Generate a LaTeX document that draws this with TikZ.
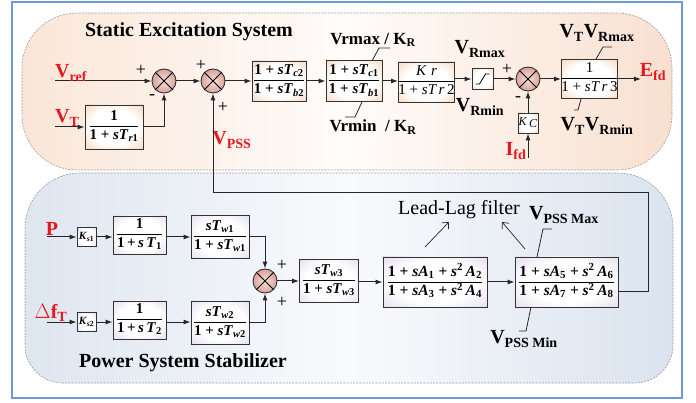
\documentclass[tikz,border=0pt]{standalone}
\usepackage{fontspec}
\setmainfont{Liberation Serif}
\usetikzlibrary{arrows.meta}
\definecolor{lblred}{RGB}{232,22,30}
\definecolor{frameblue}{RGB}{110,155,215}
\definecolor{orngE}{RGB}{238,192,156}
\definecolor{orngC}{RGB}{222,158,114}
\definecolor{lavE}{RGB}{214,202,228}
\definecolor{lavC}{RGB}{186,168,208}
\pgfdeclareradialshading{shO}{\pgfpoint{0bp}{0bp}}{color(0bp)=(white); color(20bp)=(white); color(46bp)=(orngE); color(72bp)=(orngC)}
\pgfdeclareradialshading{shP}{\pgfpoint{0bp}{0bp}}{color(0bp)=(white); color(20bp)=(white); color(46bp)=(lavE); color(72bp)=(lavC)}
\newcommand\fr[2]{\begin{tabular}{@{}c@{}}#1\\[1pt]\hline\rule{0pt}{13pt}#2\end{tabular}}
\newcommand\sTT[1]{\textit{sT}\textsubscript{#1}}
\tikzset{
  ln/.style={line width=1pt, draw=black!85},
  arr/.style={ln, -{Latex[length=7pt,width=5pt]}},
  thinarr/.style={line width=0.7pt, draw=black!85, -{Straight Barb[length=5pt,width=9pt]}},
  tab/.style={line width=0.8pt, draw=black!85},
  blkO/.style={draw=black!80, line width=0.9pt, inner sep=0pt, shading=shO,
     font=\fontsize{15}{16}\selectfont\bfseries},
  blkP/.style={draw=black!80, line width=0.9pt, inner sep=0pt, shading=shP,
     font=\fontsize{15}{16}\selectfont\bfseries},
  sumc/.style={circle, draw=black!80, line width=0.9pt, minimum size=24pt, inner sep=0pt,
     inner color={rgb,255:red,248;green,222;blue,216}, outer color={rgb,255:red,216;green,164;blue,154}},
  sgn/.style={font=\fontsize{18}{18}\selectfont, inner sep=0pt},
  lab/.style={font=\fontsize{20}{22}\selectfont\bfseries, inner sep=0pt},
  labR/.style={lab, text=lblred},
  klab/.style={font=\fontsize{17}{18}\selectfont\bfseries, inner sep=0pt},
  ttl/.style={font=\fontsize{20}{22}\selectfont\bfseries, inner sep=0pt}
}
\begin{document}
\begin{tikzpicture}[x=1pt,y=-1pt]
\useasboundingbox (0,0) rectangle (696,403);
\fill[white] (0,0) rectangle (696,403);
% regions
\path[draw=gray!75, dash pattern=on 2pt off 1.2pt, line width=0.6pt,
  left color={rgb,255:red,250;green,230;blue,216}, right color={rgb,255:red,248;green,224;blue,208},
  middle color={rgb,255:red,255;green,252;blue,250}]
  (350,13) [rounded corners=55] -- (22,13) -- (22,170) -- (672,170) -- (672,13) -- cycle;
\path[draw=gray!75, dash pattern=on 2pt off 1.2pt, line width=0.6pt,
  left color={rgb,255:red,222;green,230;blue,240}, right color={rgb,255:red,218;green,227;blue,239},
  middle color={rgb,255:red,249;green,250;blue,252}]
  (350,173) [rounded corners=55] -- (25,173) [rounded corners=38] -- (25,383) -- (673,383) [rounded corners=55] -- (673,173) -- cycle;
\draw[frameblue, line width=1.5pt] (12,2) rectangle (682,398);

% titles
\node[ttl] (t1) at (189,32) {Static Excitation System};
\node[ttl] (t2) at (183,363) {Power System Stabilizer};

% ---------- top system ----------
\node[sumc] (sum1) at (164,81) {};
\node[sumc] (sum2) at (213,81) {};
\node[sumc] (sum3) at (528,79) {};
\node[blkO, minimum width=58pt, minimum height=44pt] (b1) at (114,127) {\fr{1}{1 + \sTT{\textit{r}1}}};
\node[blkO, minimum width=54pt, minimum height=40pt] (bc2) at (279,81) {\fr{1 + \sTT{\textit{c}2}}{1 + \sTT{\textit{b}2}}};
\node[blkO, minimum width=56pt, minimum height=41pt] (bc1) at (354,81) {\fr{1 + \sTT{\textit{c}1}}{1 + \sTT{\textit{b}1}}};
\node[blkO, minimum width=55pt, minimum height=40pt, font=\fontsize{15}{16}\selectfont] (bkr) at (426.5,82) {\fr{\textit{K\,\,r}}{1 + \textit{sT\,r}\,2}};
\node[blkO, minimum width=21pt, minimum height=21pt] (lim) at (482.5,79) {};
\draw[line width=0.8pt] (lim.center) ++(-7,5) -- ++(4,0) -- ++(6,-10) -- ++(4,0);
\node[blkO, minimum width=20pt, minimum height=20pt, font=\fontsize{12}{12}\selectfont] (kc) at (528,123) {\textit{K}\,\raisebox{-2pt}{\textit{C}}};
\node[blkO, minimum width=53pt, minimum height=39pt, font=\fontsize{15}{16}\selectfont] (br3) at (589.5,79) {\fr{1}{1 + \textit{sT\,r}\,3}};

\coordinate (vrefin) at (55,81);
\coordinate (vtin) at (55,127);
\coordinate (ifdin) at (528,158);
\coordinate (efdout) at (641,79);
\coordinate (fbc) at (648,193);

\draw[arr] (vrefin) -- (sum1.west);
\draw[arr] (vtin) -- (b1.west);
\draw[arr] (b1.east) -| (sum1.south);
\draw[arr] (sum1.east) -- (sum2.west);
\draw[arr] (sum2.east) -- (bc2.west);
\draw[arr] (bc2.east) -- (bc1.west);
\draw[arr] (bc1.east) -- (bc1.east -| bkr.west);
\draw[arr] (lim.west -| bkr.east) -- (lim.west);
\draw[arr] (lim.east) -- (sum3.west);
\draw[arr] (sum3.east) -- (br3.west);
\draw[arr] (br3.east) -- (efdout);
\draw[arr] (ifdin) -- (kc.south);
\draw[arr] (kc.north) -- (sum3.south);

% limiter tabs
\draw[tab] (390,48) -- (379,48) -- (372,61);
\draw[tab] (362,102) -- (355,117) -- (345,117);
\draw[tab] (612,47) -- (603,47) -- (596,59);
\draw[tab] (581,99) -- (578,110) -- (574,110);

% labels top
\node[labR, anchor=base west] (lvref) at (55,78) {V\textsubscript{ref}};
\node[labR, anchor=base west] (lvt) at (55,123) {V\textsubscript{T}};
\node[labR] (lvpss) at (232,140) {V\textsubscript{PSS}};
\node[labR] (lifd) at (516,151) {I\textsubscript{fd}};
\node[labR] (lefd) at (653,72) {E\textsubscript{fd}};
\node[klab] (lrmax) at (373,40) {Vrmax / K\textsubscript{R}};
\node[klab] (lrmin) at (373,127) {Vrmin~ / K\textsubscript{R}};
\node[lab] (lvrmax) at (480,49) {V\textsubscript{Rmax}};
\node[lab] (lvrmin) at (480,107) {V\textsubscript{Rmin}};
\node[lab] (lvtmax) at (597,33) {V\textsubscript{T}V\textsubscript{Rmax}};
\node[lab] (lvtmin) at (597,126) {V\textsubscript{T}V\textsubscript{Rmin}};
\node[sgn] (p1) at (141,70) {+};
\node[sgn] (m1) at (152,97) {-};
\node[sgn] (p2) at (201,65) {+};
\node[sgn] (p3) at (223,107) {+};
\node[sgn] (p4) at (507,69) {+};
\node[sgn] (m2) at (518,99) {-};

% ---------- PSS ----------
\node[sumc] (sum4) at (265,281) {};
\node[blkP, minimum width=19pt, minimum height=19pt, font=\fontsize{11}{11}\selectfont\bfseries] (ks1) at (86.5,237) {\textit{K}\textsubscript{\textit{s}1}};
\node[blkP, minimum width=53pt, minimum height=38pt] (b1s) at (139.5,235) {\fr{1}{1\,+\,\textit{s\,T}\textsubscript{1}}};
\node[blkP, minimum width=58pt, minimum height=43pt] (bw1) at (220,237) {\fr{\sTT{\textit{w}1}}{1 + \sTT{\textit{w}1}}};
\node[blkP, minimum width=19pt, minimum height=19pt, font=\fontsize{11}{11}\selectfont\bfseries] (ks2) at (86.5,322) {\textit{K}\textsubscript{\textit{s}2}};
\node[blkP, minimum width=53pt, minimum height=38pt] (b2s) at (139.5,320) {\fr{1}{1\,+\,\textit{s\,T}\textsubscript{2}}};
\node[blkP, minimum width=58pt, minimum height=43pt] (bw2) at (220,322.5) {\fr{\sTT{\textit{w}2}}{1 + \sTT{\textit{w}2}}};
\node[blkP, minimum width=59pt, minimum height=43pt] (bw3) at (329,281) {\fr{\sTT{\textit{w}3}}{1 + \sTT{\textit{w}3}}};
\node[blkP, minimum width=104pt, minimum height=50pt, font=\fontsize{15.5}{16}\selectfont\bfseries] (ll1) at (435,282) {\fr{1 + \textit{sA}\textsubscript{1} + \textit{s}\textsuperscript{2}\,\textit{A}\textsubscript{2}}{1 + \textit{sA}\textsubscript{3} + \textit{s}\textsuperscript{2}\,\textit{A}\textsubscript{4}}};
\node[blkP, minimum width=103pt, minimum height=50pt, font=\fontsize{15.5}{16}\selectfont\bfseries] (ll2) at (566.5,282) {\fr{1 + \textit{sA}\textsubscript{5} + \textit{s}\textsuperscript{2}\,\textit{A}\textsubscript{6}}{1 + \textit{sA}\textsubscript{7} + \textit{s}\textsuperscript{2}\,\textit{A}\textsubscript{8}}};

\coordinate (pin) at (47,237);
\coordinate (dfin) at (47,322);
\coordinate (llout) at ([yshift=-10pt]ll2.east);

\draw[arr] (pin) -- (ks1.west);
\draw[arr] (ks1.east) -- (ks1.east -| b1s.west);
\draw[arr] (b1s.east |- bw1.west) -- (bw1.west);
\draw[arr] (bw1.east) -| (sum4.north);
\draw[arr] (dfin) -- (ks2.west);
\draw[arr] (ks2.east) -- (ks2.east -| b2s.west);
\draw[arr] (b2s.east |- ks2.east) -- (ks2.east -| bw2.west);
\draw[arr] (bw2.east) -| (sum4.south);
\draw[arr] (sum4.east) -- (sum4.east -| bw3.west);
\draw[arr] (bw3.east |- ll1.west) -- (ll1.west);
\draw[arr] (ll1.east) -- (ll2.west);
\draw[arr] (llout) -| (fbc) -| (sum2.south);

% PSS limiter tabs
\draw[tab] (552,229) -- (543,229) -- (537,257);
\draw[tab] (531,307) -- (526,331) -- (519,331);

% lead-lag annotation
\node[font=\fontsize{20}{22}\selectfont, inner sep=0pt] (llf) at (459,210) {Lead-Lag filter};
\coordinate (la1) at (425,247);
\coordinate (la2) at (449,222);
\coordinate (lb1) at (525,249);
\coordinate (lb2) at (502,222);
\draw[thinarr] (la1) -- (la2);
\draw[thinarr] (lb1) -- (lb2);

% PSS labels
\node[labR] (lp) at (52,229) {P};
\node[labR] (ldf) at (51,313) {$\Delta$f\textsubscript{T}};
\node[lab] (lpmax) at (564,215) {V\textsubscript{PSS Max}};
\node[lab] (lpmin) at (524,339) {V\textsubscript{PSS Min}};
\node[sgn] (p5) at (282,265) {+};
\node[sgn] (p6) at (282,302) {+};

% sum crosses
\foreach \s in {sum1,sum2,sum3,sum4}{
  \draw[line width=0.8pt] (\s.north east) -- (\s.south west) (\s.north west) -- (\s.south east);
}
\end{tikzpicture}
\end{document}
